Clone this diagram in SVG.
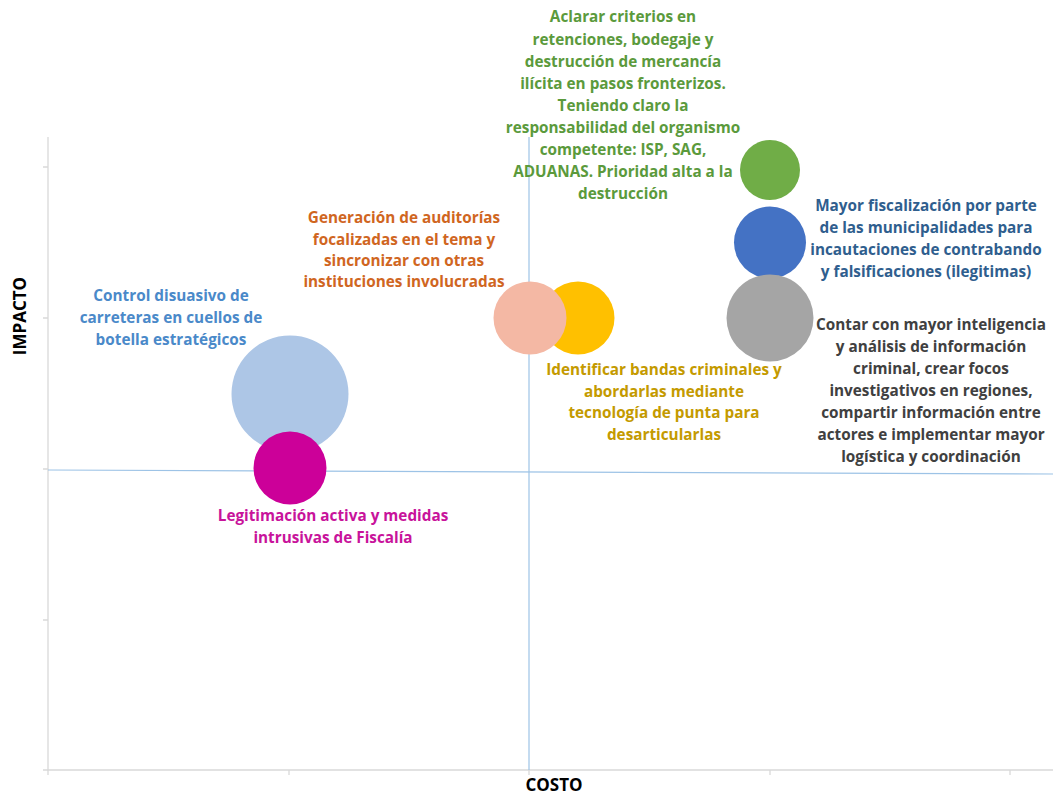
<svg xmlns="http://www.w3.org/2000/svg" width="1053" height="794" viewBox="0 0 1053 794">
<style>
text{font-family:"Open Sans",Lato,"Liberation Sans",sans-serif;font-weight:700;font-size:15.3px;text-anchor:middle}
.ax{stroke:#d9d9d9;stroke-width:1.3;fill:none}
.ql{stroke:#9dc3e6;stroke-width:1.2;fill:none}
.t-green{fill:#5b9a3c}
.t-orange{fill:#d0661f}
.t-blue{fill:#4a89c9}
.t-navy{fill:#2f5e8e}
.t-gray{fill:#404040}
.t-gold{fill:#c49a00}
.t-mag{fill:#c8139b}
.lbl{fill:#000;font-size:17px}
</style>
<rect width="1053" height="794" fill="#fff"/>
<g id="axes">
<path class="ax" d="M48 137V770H1053"/>
<path class="ax" d="M43 167H48M43 318H48M43 469H48M43 620H48M43 770H48M48 770V775M289 770V775M529 770V775M770 770V775M1010 770V775"/>
<path class="ql" d="M48 470L1053 474"/>
<path class="ql" d="M529 137V770"/>
<text class="lbl" transform="translate(26 316) rotate(-90)">IMPACTO</text>
<text class="lbl" x="554" y="791">COSTO</text>
</g>
<g id="n-control">
<circle cx="290" cy="394" r="58.5" fill="#adc6e6"/>
<text class="t-blue"><tspan x="171" y="301">Control disuasivo de</tspan><tspan x="171" y="323">carreteras en cuellos de</tspan><tspan x="171" y="345">botella estratégicos</tspan></text>
</g>
<g id="n-legitimacion">
<circle cx="290" cy="468" r="36.5" fill="#cc0099"/>
<text class="t-mag"><tspan x="333" y="521">Legitimación activa y medidas</tspan><tspan x="333" y="543">intrusivas de Fiscalía</tspan></text>
</g>
<g id="n-identificar">
<circle cx="578" cy="318" r="36.5" fill="#ffc000"/>
<text class="t-gold"><tspan x="664" y="375">Identificar bandas criminales y</tspan><tspan x="664" y="397">abordarlas mediante</tspan><tspan x="664" y="418">tecnología de punta para</tspan><tspan x="664" y="440">desarticularlas</tspan></text>
</g>
<g id="n-auditorias">
<circle cx="530" cy="318" r="36.5" fill="#f4b8a4"/>
<text class="t-orange"><tspan x="404" y="223">Generación de auditorías</tspan><tspan x="404" y="245">focalizadas en el tema y</tspan><tspan x="404" y="266">sincronizar con otras</tspan><tspan x="404" y="287">instituciones involucradas</tspan></text>
</g>
<g id="n-aclarar">
<circle cx="770" cy="170" r="30" fill="#70ad47"/>
<text class="t-green"><tspan x="623" y="22">Aclarar criterios en</tspan><tspan x="623" y="45">retenciones, bodegaje y</tspan><tspan x="623" y="67">destrucción de mercancía</tspan><tspan x="623" y="89">ilícita en pasos fronterizos.</tspan><tspan x="623" y="111">Teniendo claro la</tspan><tspan x="623" y="133">responsabilidad del organismo</tspan><tspan x="623" y="155">competente: ISP, SAG,</tspan><tspan x="623" y="177">ADUANAS. Prioridad alta a la</tspan><tspan x="623" y="199">destrucción</tspan></text>
</g>
<g id="n-fiscalizacion">
<circle cx="770" cy="242.5" r="36" fill="#4472c4"/>
<text class="t-navy"><tspan x="926" y="211">Mayor fiscalización por parte</tspan><tspan x="926" y="233">de las municipalidades para</tspan><tspan x="926" y="255">incautaciones de contrabando</tspan><tspan x="926" y="277">y falsificaciones (ilegitimas)</tspan></text>
</g>
<g id="n-inteligencia">
<circle cx="770" cy="318" r="43.5" fill="#a5a5a5"/>
<text class="t-gray"><tspan x="931" y="330">Contar con mayor inteligencia</tspan><tspan x="931" y="352">y análisis de información</tspan><tspan x="931" y="374">criminal, crear focos</tspan><tspan x="931" y="396">investigativos en regiones,</tspan><tspan x="931" y="418">compartir información entre</tspan><tspan x="931" y="440">actores e implementar mayor</tspan><tspan x="931" y="462">logística y coordinación</tspan></text>
</g>
</svg>
